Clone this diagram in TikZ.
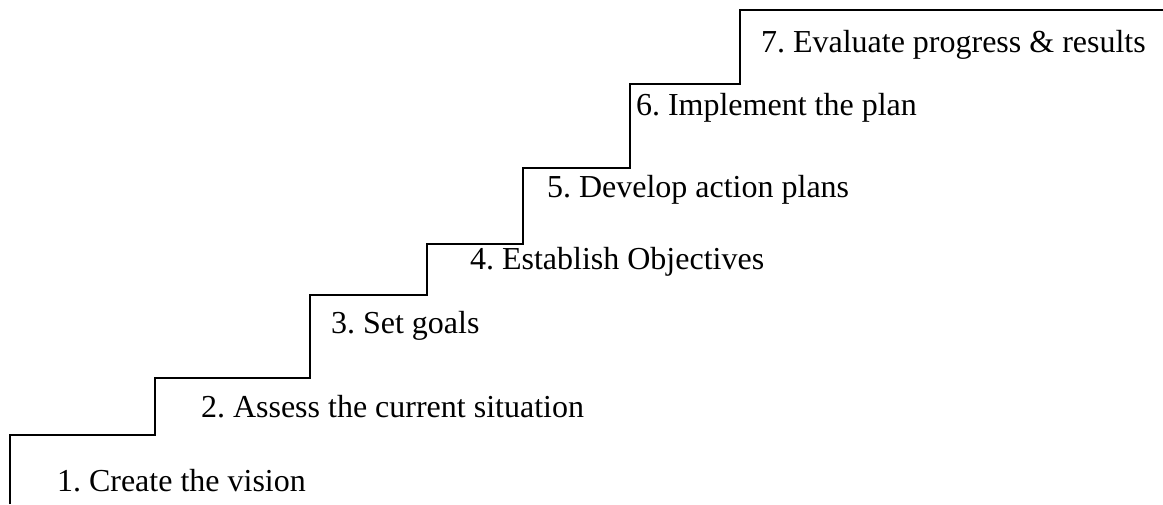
\documentclass[tikz,border=0pt]{standalone}
\usepackage{fontspec}
\setmainfont{Liberation Serif}
\frenchspacing

\tikzset{steptext/.style={anchor=base west, inner sep=0pt, outer sep=0pt,
                          font=\fontsize{16}{19}\selectfont}}

\begin{document}
\begin{tikzpicture}[x=0.5pt, y=-0.5pt, line width=1pt]
  \useasboundingbox (0,0) rectangle (1163,504);
  % the stairs
  \draw (10,504) -- (10,435) -- (155,435) -- (155,378) -- (310,378)
        -- (310,295) -- (427,295) -- (427,244) -- (523,244)
        -- (523,168) -- (630,168) -- (630,84) -- (740,84)
        -- (740,10) -- (1163,10);
  \node[steptext] (s1) at (57,491) {1. Create the vision};
  \node[steptext] (s2) at (201,417) {2. Assess the current situation};
  \node[steptext] (s3) at (331,333) {3. Set goals};
  \node[steptext] (s4) at (470,269) {4. Establish Objectives};
  \node[steptext] (s5) at (547,197) {5. Develop action plans};
  \node[steptext] (s6) at (636,115) {6. Implement the plan};
  \node[steptext] (s7) at (761,52) {7. Evaluate progress \& results};
\end{tikzpicture}
\end{document}
